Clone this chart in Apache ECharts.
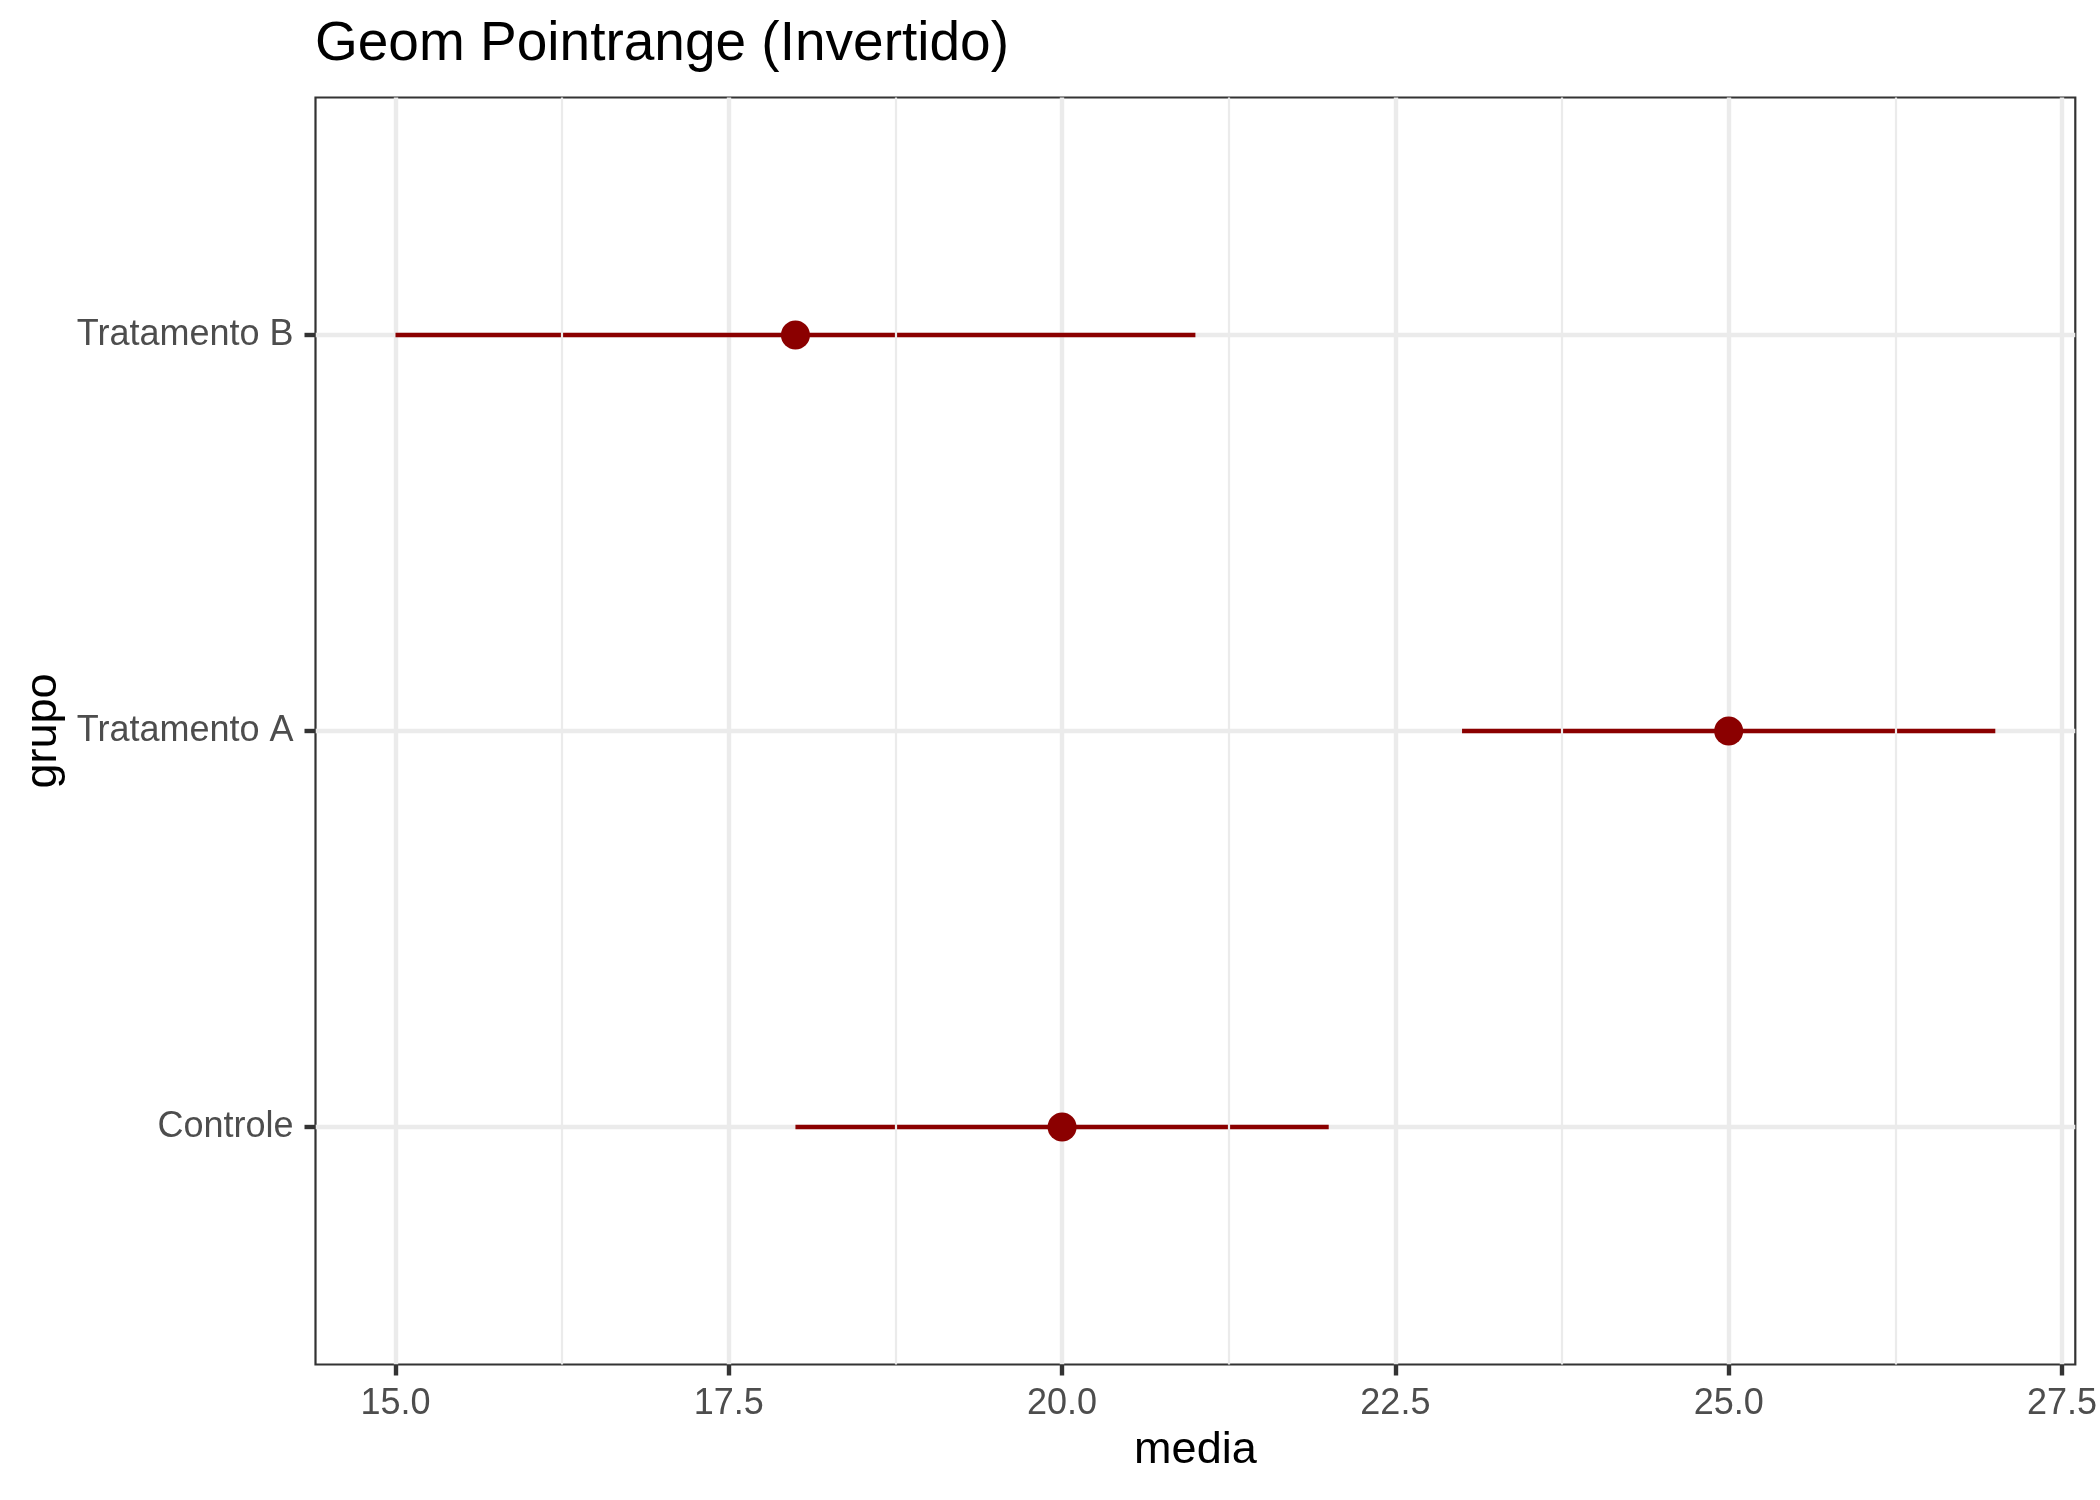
<!DOCTYPE html>
<html>
<head>
<meta charset="utf-8">
<script src="https://cdn.jsdelivr.net/npm/echarts@6/dist/echarts.min.js"></script>
<style>
html,body{margin:0;padding:0;background:#fff;}
#chart{width:2100px;height:1500px;}
</style>
</head>
<body>
<div id="chart"></div>
<script>
// Data
const grupos = ['Controle', 'Tratamento A', 'Tratamento B'];
const media = [20, 25, 18];
const inferior = [18, 23, 15];
const superior = [22, 27, 21];
const xTicks = [15.0, 17.5, 20.0, 22.5, 25.0, 27.5];
const xMinorTicks = [16.25, 18.75, 21.25, 23.75, 26.25];

const yPos = grupos.map((g, i) => i + 1);
const rangeData = grupos.map((g, i) => [inferior[i], superior[i], yPos[i]]);
const pointData = grupos.map((g, i) => [media[i], yPos[i]]);

const FONT = '"Liberation Sans", Arial, Helvetica, sans-serif';
const chart = echarts.init(document.getElementById('chart'), null, {renderer: 'canvas'});

chart.setOption({
  backgroundColor: '#ffffff',
  animation: false,
  title: {
    text: 'Geom Pointrange (Invertido)',
    left: 310,
    top: 12,
    textStyle: {fontFamily: FONT, fontSize: 55, fontWeight: 'normal', color: '#000000'}
  },
  grid: {
    left: 315.5, right: 24, top: 97.5, bottom: 135.5,
    show: true, borderColor: '#333333', borderWidth: 2.2, backgroundColor: 'transparent'
  },
  xAxis: {
    type: 'value', min: 14.4, max: 27.6,
    name: 'media', nameLocation: 'middle', nameGap: 64,
    nameTextStyle: {fontFamily: FONT, fontSize: 45, color: '#000000'},
    axisLine: {show: false},
    axisTick: {show: true, length: 11, customValues: xTicks, lineStyle: {color: '#333333', width: 4.4}},
    axisLabel: {
      customValues: xTicks, margin: 22,
      formatter: v => Number(v).toFixed(1),
      fontFamily: FONT, fontSize: 36, color: '#4D4D4D'
    },
    splitLine: {show: true, lineStyle: {color: '#EBEBEB', width: 4.4}}
  },
  yAxis: {
    type: 'value', min: 0.4, max: 3.6,
    name: 'grupo', nameLocation: 'middle', nameGap: 248,
    nameTextStyle: {fontFamily: FONT, fontSize: 45, color: '#000000'},
    axisLine: {show: false},
    axisTick: {show: true, length: 11, customValues: yPos, lineStyle: {color: '#333333', width: 4.4}},
    axisLabel: {
      customValues: yPos, margin: 22,
      formatter: v => grupos[Math.round(v) - 1] || '',
      fontFamily: FONT, fontSize: 36, color: '#4D4D4D'
    },
    splitLine: {show: true, lineStyle: {color: '#EBEBEB', width: 4.4}}
  },
  series: [
    {
      type: 'line', data: [], silent: true, z: 1,
      markLine: {
        silent: true, symbol: 'none', label: {show: false},
        lineStyle: {color: '#EBEBEB', width: 2.2, type: 'solid'},
        data: xMinorTicks.map(v => ({xAxis: v}))
      }
    },
    {
      type: 'custom', z: 3,
      data: rangeData,
      renderItem: function (params, api) {
        const p1 = api.coord([api.value(0), api.value(2)]);
        const p2 = api.coord([api.value(1), api.value(2)]);
        return {
          type: 'line',
          shape: {x1: p1[0], y1: p1[1], x2: p2[0], y2: p2[1]},
          style: {stroke: '#8B0000', lineWidth: 4.4}
        };
      }
    },
    {
      type: 'scatter', z: 4,
      data: pointData,
      symbol: 'circle', symbolSize: 29,
      itemStyle: {color: '#8B0000', opacity: 1}
    }
  ]
});
</script>
</body>
</html>
